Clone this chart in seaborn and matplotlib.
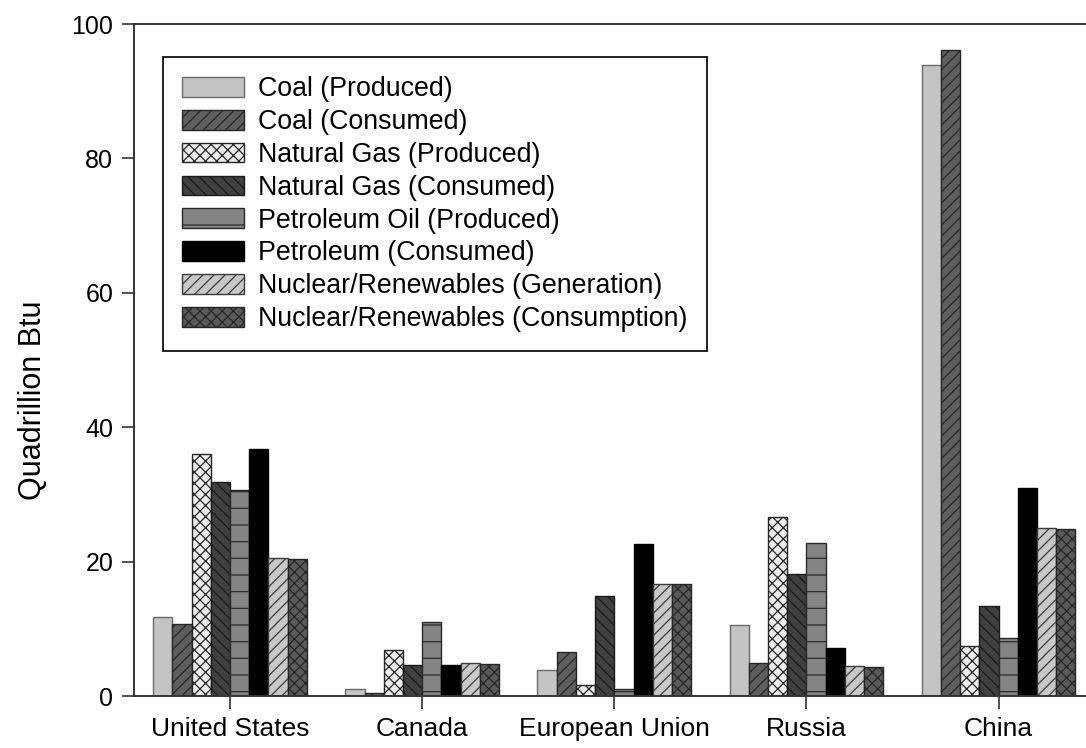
import matplotlib
matplotlib.use("Agg")
import matplotlib.pyplot as plt
import seaborn as sns
import pandas as pd

# Regions on the category axis
countries = ["United States", "Canada", "European Union", "Russia", "China"]

# Energy series (quadrillion Btu), one list per series
coal_produced = [11.7, 1.0, 3.8, 10.6, 93.9]
coal_consumed = [10.7, 0.45, 6.5, 4.9, 96.1]
gas_produced = [36.0, 6.9, 1.7, 26.7, 7.5]
gas_consumed = [31.9, 4.6, 14.9, 18.1, 13.4]
oil_produced = [30.6, 11.0, 1.0, 22.8, 8.6]
oil_consumed = [36.7, 4.6, 22.6, 7.2, 30.9]
nucren_generation = [20.6, 4.85, 16.6, 4.4, 25.0]
nucren_consumption = [20.4, 4.7, 16.6, 4.3, 24.8]

series_names = [
    "Coal (Produced)",
    "Coal (Consumed)",
    "Natural Gas (Produced)",
    "Natural Gas (Consumed)",
    "Petroleum Oil (Produced)",
    "Petroleum (Consumed)",
    "Nuclear/Renewables (Generation)",
    "Nuclear/Renewables (Consumption)",
]
series_values = [
    coal_produced, coal_consumed, gas_produced, gas_consumed,
    oil_produced, oil_consumed, nucren_generation, nucren_consumption,
]

y_ticks = [0, 20, 40, 60, 80, 100]

# Long-form table for seaborn
rows = []
for name, vals in zip(series_names, series_values):
    for c, v in zip(countries, vals):
        rows.append({"Region": c, "Series": name, "Value": v})
df = pd.DataFrame(rows)

# Fill / hatch / edge styling per series
fills = ["#c4c4c4", "#5e5e5e", "#ececec", "#404040",
         "#848484", "#000000", "#c8c8c8", "#5a5a5a"]
hatches = [None, "///", "xxx", "\\\\\\", "-", None, "///", "xxx"]
edges = ["#6a6a6a", "#262626", "#262626", "#1a1a1a",
         "#2a2a2a", "#000000", "#3a3a3a", "#262626"]

sns.set_style("ticks")
plt.rcParams["font.family"] = ["Liberation Sans", "DejaVu Sans"]
plt.rcParams["hatch.linewidth"] = 0.9
plt.rcParams["text.color"] = "black"
plt.rcParams["axes.labelcolor"] = "black"
plt.rcParams["xtick.labelcolor"] = "black"
plt.rcParams["ytick.labelcolor"] = "black"

fig = plt.figure(figsize=(10.86, 7.48), dpi=100)
ax = fig.add_axes([0.1234, 0.0695, 0.8845, 0.8984])

sns.barplot(
    data=df, x="Region", y="Value", hue="Series",
    order=countries, hue_order=series_names,
    palette=dict(zip(series_names, fills)),
    width=0.8, gap=0, saturation=1, errorbar=None,
    linewidth=1.0, legend=False, ax=ax,
)

for cont, h, ec, fc in zip(ax.containers, hatches, edges, fills):
    for p in cont.patches:
        p.set_facecolor(fc)
        p.set_edgecolor(ec)
        p.set_linewidth(1.0)
        if h:
            p.set_hatch(h)

ax.set_xlim(-0.5, len(countries) - 0.5)
ax.set_ylim(0, 100)
ax.set_yticks(y_ticks)
ax.set_xlabel("")
ax.set_ylabel("Quadrillion Btu", fontsize=22)
ax.yaxis.set_label_coords(-0.0895, 0.44)
ax.tick_params(axis="both", length=9, width=1.2,
               color="#333333", direction="out", pad=6)
ax.tick_params(axis="x", labelsize=19, pad=6)
ax.tick_params(axis="y", labelsize=18)

for side in ["left", "bottom", "top", "right"]:
    ax.spines[side].set_visible(True)
    ax.spines[side].set_color("#333333")
    ax.spines[side].set_linewidth(1.4)

leg = ax.legend(
    handles=list(ax.containers), labels=series_names,
    loc="upper left", bbox_to_anchor=(0.030, 0.951),
    fontsize=19.3, frameon=True, fancybox=False, framealpha=1,
    edgecolor="#111111", borderpad=0.72, labelspacing=0.255,
    handlelength=2.31, handleheight=0.75, handletextpad=0.52,
    borderaxespad=0,
)
leg.get_frame().set_linewidth(1.3)

fig.savefig("out.png", dpi=100)
